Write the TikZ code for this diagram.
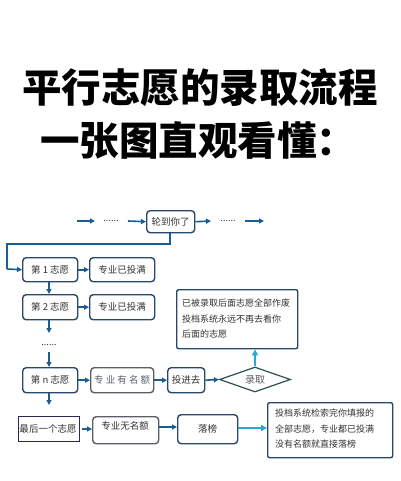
\documentclass[tikz,border=0pt]{standalone}
\usepackage{fontspec}
\usetikzlibrary{arrows.meta,shapes.geometric}
\newfontfamily\cjk{Noto Sans CJK SC}
\definecolor{boxc}{HTML}{27476B}
\definecolor{arrc}{HTML}{1B5C93}
\definecolor{cyanc}{HTML}{2BA6D6}
\definecolor{txtc}{HTML}{333333}
\definecolor{diac}{HTML}{2F4F57}
\definecolor{grayc}{HTML}{5A5F66}
\definecolor{navyc}{HTML}{2A2A50}
\tikzset{
  box/.style={draw=boxc, line width=1.4pt, rounded corners=3.5pt, fill=white,
    inner sep=0pt, text=txtc, font=\cjk\fontsize{9.5}{12}\selectfont, anchor=north west},
  note/.style={draw=boxc, line width=1.4pt, rounded corners=2pt, fill=white,
    inner sep=0pt, anchor=north west},
  notetext/.style={anchor=west, text=txtc, font=\cjk\fontsize{9}{11}\selectfont, inner sep=0pt},
  arr/.style={draw=arrc, line width=1.6pt, -{Triangle[length=5pt,width=5pt]}},
  carr/.style={draw=cyanc, line width=1.6pt, -{Triangle[length=6pt,width=6pt]}},
  dots/.style={font=\cjk\fontsize{9}{10}\selectfont, text=txtc, inner sep=0pt},
  title/.style={font=\cjk\bfseries\fontsize{39.5}{40}\selectfont, inner sep=0pt}
}
\begin{document}
\begin{tikzpicture}[x=1pt,y=-1pt]
\useasboundingbox (0,0) rectangle (400,481);
\fill[white] (0,0) rectangle (400,481);
% titles
\node[title] (t1) at (200,88) {平行志愿的录取流程};
\node[title] (t2) at (198,140) {一张图直观看懂：};
% top row
\coordinate (a1s) at (77,221);
\coordinate (a1e) at (95,221);
\node[dots] (d1) at (111,221) {......};
\coordinate (a2s) at (128,221);
\node[box, minimum width=48pt, minimum height=22pt] (turn) at (146,210) {轮到你了};
\node[dots] (d2n) at (228,221) {......};
\coordinate (a4s) at (245,221);
\coordinate (a4e) at (264,221);
\coordinate (a3e) at (211,221);
\draw[arr] (a1s) -- (a1e);
\draw[arr] (a2s) -- (turn.west);
\draw[arr] (turn.east) -- (a3e);
\draw[arr] (a4s) -- (a4e);
% choices
\node[box, minimum width=55pt, minimum height=24pt] (c1) at (22,257) {第 1 志愿};
\node[box, minimum width=65pt, minimum height=24pt] (f1) at (89,257) {专业已投满};
\node[box, minimum width=55pt, minimum height=25pt] (c2) at (22,294) {第 2 志愿};
\node[box, minimum width=65pt, minimum height=25pt] (f2) at (89,294) {专业已投满};
\node[dots] (d3) at (49,345) {......};
\node[box, minimum width=55pt, minimum height=25pt] (cn) at (22,367) {第 n 志愿};
\node[box, minimum width=63pt, minimum height=25pt, draw=grayc, text=grayc] (hn) at (90,367) {专 业 有 名 额};
\node[box, minimum width=37pt, minimum height=25pt] (in) at (167,367) {投进去};
\node[diamond, draw=diac, line width=1.2pt, aspect=2.9, minimum width=71pt, minimum height=25pt, inner sep=0pt, text=grayc, font=\cjk\fontsize{10}{12}\selectfont] (adm) at (255,379.5) {录取};
% top note
\node[note, minimum width=121pt, minimum height=59pt] (n1) at (176,289) {};
\node[notetext] (n1a) at (182,303) {已被录取后面志愿全部作废};
\node[notetext] (n1b) at (182,319) {投档系统永远不再去看你};
\node[notetext] (n1c) at (182,334) {后面的志愿};
% last row
\node[box, rounded corners=0pt, draw=navyc, minimum width=61pt, minimum height=25pt] (cl) at (18,416) {};
\node[inner sep=0pt, text=txtc, font=\cjk\fontsize{9.5}{11}\selectfont] (clt) at (48,429) {最后一个志愿};
\node[box, draw=grayc, minimum width=66pt, minimum height=27pt] (hl) at (92,416) {};
\node[inner sep=0pt, text=txtc, font=\cjk\fontsize{9.5}{11}\selectfont] (hlt) at (125,426) {专业无名额};
\node[box, minimum width=60pt, minimum height=29pt] (fail) at (177,414) {落榜};
\node[note, minimum width=125pt, minimum height=55pt] (n2) at (267,402) {};
\node[notetext] (n2a) at (275,413) {投档系统检索完你填报的};
\node[notetext] (n2b) at (275,429) {全部志愿，专业都已投满};
\node[notetext] (n2c) at (275,444) {没有名额就直接落榜};
% connectors
\coordinate (e1) at (170,244);
\coordinate (e2) at (7,244);
\coordinate (e3) at (7,269);
\draw[draw=arrc, line width=1.6pt] (turn.south -| e1) -- (e1) -- (e2) -- (e3);
\draw[arr] (e3) -- (c1.west);
\draw[arr] (c1.east) -- (f1.west);
\draw[arr] (c2.east) -- (f2.west);
\draw[arr] (c1.south -| 49,0) -- (c2.north -| 49,0);
\coordinate (v1) at (49,333);
\coordinate (v2) at (49,352);
\draw[arr] (c2.south -| 49,0) -- (v1);
\draw[arr] (v2) -- (cn.north -| 49,0);
\draw[arr] (cn.east) -- (hn.west);
\draw[arr] (hn.east) -- (in.west);
\draw[arr] (in.east) -- (adm.west);
\draw[carr] (adm.north) -- (n1.south -| adm.north);
\coordinate (v3) at (49,405);
\coordinate (lw) at (82,429);
\draw[arr] (cn.south -| 49,0) -- (v3);
\draw[arr] (lw) -- (hl.west |- lw);
\draw[arr] (hl.east |- 0,427) -- (fail.west |- 0,427);
\draw[carr] (fail.east |- 0,428) -- (n2.west |- 0,428);
\end{tikzpicture}
\end{document}
